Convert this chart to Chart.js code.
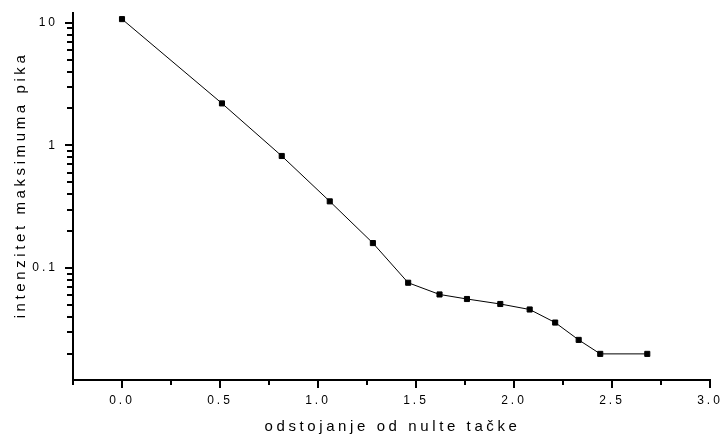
<!DOCTYPE html>
<html>
<head>
<meta charset="utf-8">
<script src="https://cdn.jsdelivr.net/npm/chart.js@4/dist/chart.umd.min.js"></script>
<style>
  html, body { margin: 0; padding: 0; background: #fff; }
  #wrap { width: 722px; height: 436px; }
</style>
</head>
<body>
<div id="wrap"><canvas id="chart" width="722" height="436"></canvas></div>
<script>
// podaci ocitani sa slike
const distance = [0, 0.51, 0.815, 1.06, 1.28, 1.46, 1.62, 1.76, 1.93, 2.08, 2.21, 2.33, 2.44, 2.68];
const intensity = [10.7, 2.2, 0.82, 0.35, 0.16, 0.076, 0.061, 0.056, 0.051, 0.046, 0.036, 0.026, 0.020, 0.020];

const xMajor = [0, 0.5, 1, 1.5, 2, 2.5, 3];
const xLabels = ['0.0', '0.5', '1.0', '1.5', '2.0', '2.5', '3.0'];
const xMinor = [-0.25, 0.25, 0.75, 1.25, 1.75, 2.25, 2.75];

const yMajor = [0.1, 1, 10];
const yLabels = ['0.1', '1', '10'];
const yMinor = [0.02, 0.03, 0.04, 0.05, 0.06, 0.07, 0.08, 0.09,
                0.2, 0.3, 0.4, 0.5, 0.6, 0.7, 0.8, 0.9,
                2, 3, 4, 5, 6, 7, 8, 9];

const xTitle = 'odstojanje od nulte tačke';
const yTitle = 'intenzitet maksimuma pika';

// crtice na osama (velike i male) i naslovi osa
const axisDecor = {
  id: 'axisDecor',
  beforeDraw(chart) {
    chart.ctx.letterSpacing = '3px';
  },
  afterDraw(chart) {
    const c = chart.ctx;
    const area = chart.chartArea;
    const xs = chart.scales.x, ys = chart.scales.y;
    c.save();
    c.fillStyle = '#000';
    // crtice kao mali pravougaonici debljine 2px
    xMajor.forEach(v => { const p = Math.round(xs.getPixelForValue(v)); c.fillRect(p - 1, area.bottom, 2, 8); });
    xMinor.forEach(v => { const p = Math.round(xs.getPixelForValue(v)); c.fillRect(p - 1, area.bottom, 2, 5); });
    yMajor.forEach(v => { const p = Math.round(ys.getPixelForValue(v)); c.fillRect(area.left - 8, p - 1, 8, 2); });
    yMinor.forEach(v => { const p = Math.round(ys.getPixelForValue(v)); c.fillRect(area.left - 6, p - 1, 6, 2); });

    c.font = '15px "Liberation Sans", Arial, sans-serif';
    c.letterSpacing = '3.6px';
    c.textAlign = 'center';
    c.textBaseline = 'alphabetic';
    c.fillText(xTitle, (area.left + area.right) / 2 + 1, 431);
    c.translate(25, 185);
    c.rotate(-Math.PI / 2);
    c.fillText(yTitle, 0, 0);
    c.restore();
  }
};

const ctx = document.getElementById('chart').getContext('2d');
new Chart(ctx, {
  type: 'line',
  data: {
    datasets: [{
      data: distance.map((d, i) => ({ x: d, y: intensity[i] })),
      borderColor: '#000',
      borderWidth: 1,
      backgroundColor: '#000',
      pointStyle: 'rect',
      pointRadius: 3.6,
      pointBorderWidth: 1,
      pointBorderColor: '#000',
      pointBackgroundColor: '#000',
      tension: 0
    }]
  },
  options: {
    responsive: false,
    animation: false,
    layout: { padding: { left: 0, right: 12, top: 13, bottom: 0 } },
    plugins: { legend: { display: false }, tooltip: { enabled: false } },
    scales: {
      x: {
        type: 'linear',
        min: -0.25,
        max: 3.0,
        grid: { display: false, drawTicks: false },
        border: { display: true, color: '#000', width: 2 },
        afterBuildTicks: s => { s.ticks = xMajor.map(v => ({ value: v })); },
        afterFit: s => { s.height = 56; s.paddingLeft = 0; s.paddingRight = 0; },
        ticks: {
          autoSkip: false,
          maxRotation: 0,
          padding: 13,
          color: '#000',
          font: { family: '"Liberation Sans", Arial, sans-serif', size: 12 },
          callback: v => { const i = xMajor.indexOf(v); return i >= 0 ? xLabels[i] : ''; }
        }
      },
      y: {
        type: 'logarithmic',
        min: 0.01225,
        max: 12,
        grid: { display: false, drawTicks: false },
        border: { display: true, color: '#000', width: 2 },
        afterBuildTicks: s => { s.ticks = yMajor.map(v => ({ value: v })); },
        afterFit: s => { s.width = 73; s.paddingTop = 0; s.paddingBottom = 0; },
        ticks: {
          autoSkip: false,
          padding: 15,
          color: '#000',
          font: { family: '"Liberation Sans", Arial, sans-serif', size: 12 },
          callback: v => { const i = yMajor.indexOf(v); return i >= 0 ? yLabels[i] : ''; }
        }
      }
    }
  },
  plugins: [axisDecor]
});
</script>
</body>
</html>
